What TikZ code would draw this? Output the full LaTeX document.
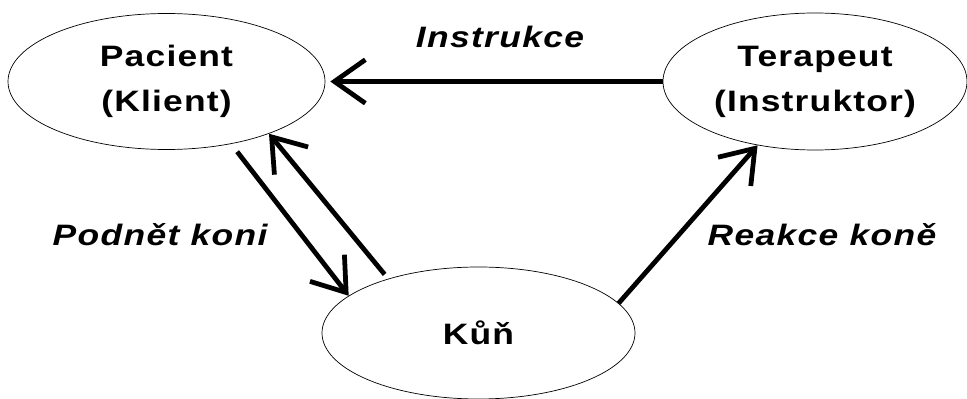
\documentclass[tikz,border=0pt]{standalone}
\usepackage{fontspec}
\usepackage{tikz}
\usetikzlibrary{shapes.geometric,arrows.meta}
\newfontfamily\uzelfont{Liberation Sans}[FakeStretch=1.2,LetterSpace=4]
\newfontfamily\popisfont{Liberation Sans}[FakeStretch=1.2,LetterSpace=4.5]

\begin{document}
\begin{tikzpicture}[
  elipsa/.style={draw,ellipse,line width=0.5pt,inner sep=0pt,align=center,
    font=\uzelfont\bfseries\fontsize{21}{32}\selectfont},
  sipka/.style={line width=3.4pt,-{Straight Barb[length=22pt,width=31pt]}},
  popis/.style={anchor=base,font=\popisfont\bfseries\itshape\fontsize{21}{32}\selectfont}]
\useasboundingbox (0,0) rectangle (24.175,9.95);
\node[elipsa,minimum width=7.925cm,minimum height=3.4cm] (P) at (4.1625,7.9125) {Pacient\\(Klient)};
\node[elipsa,minimum width=7.6cm,minimum height=3.425cm] (T) at (20.375,7.9125) {Terapeut\\(Instruktor)};
\node[elipsa,minimum width=7.825cm,minimum height=3.3cm] (K) at (11.9625,1.625) {Kůň};
\draw[sipka,shorten >=3.5pt] (T.west) -- (P.east);
\draw[sipka,shorten <=7pt] (P.-44) -- (K.164);
\draw[sipka,shorten <=4pt] (K.149) -- (P.-27);
\draw[sipka] (K.12) -- (T.228);
\node[popis] (I) at (12.5,8.75) {Instrukce};
\node[popis] (PK) at (4.0,3.825) {Podnět koni};
\node[popis] (RK) at (20.55,3.825) {Reakce koně};
\end{tikzpicture}
\end{document}
